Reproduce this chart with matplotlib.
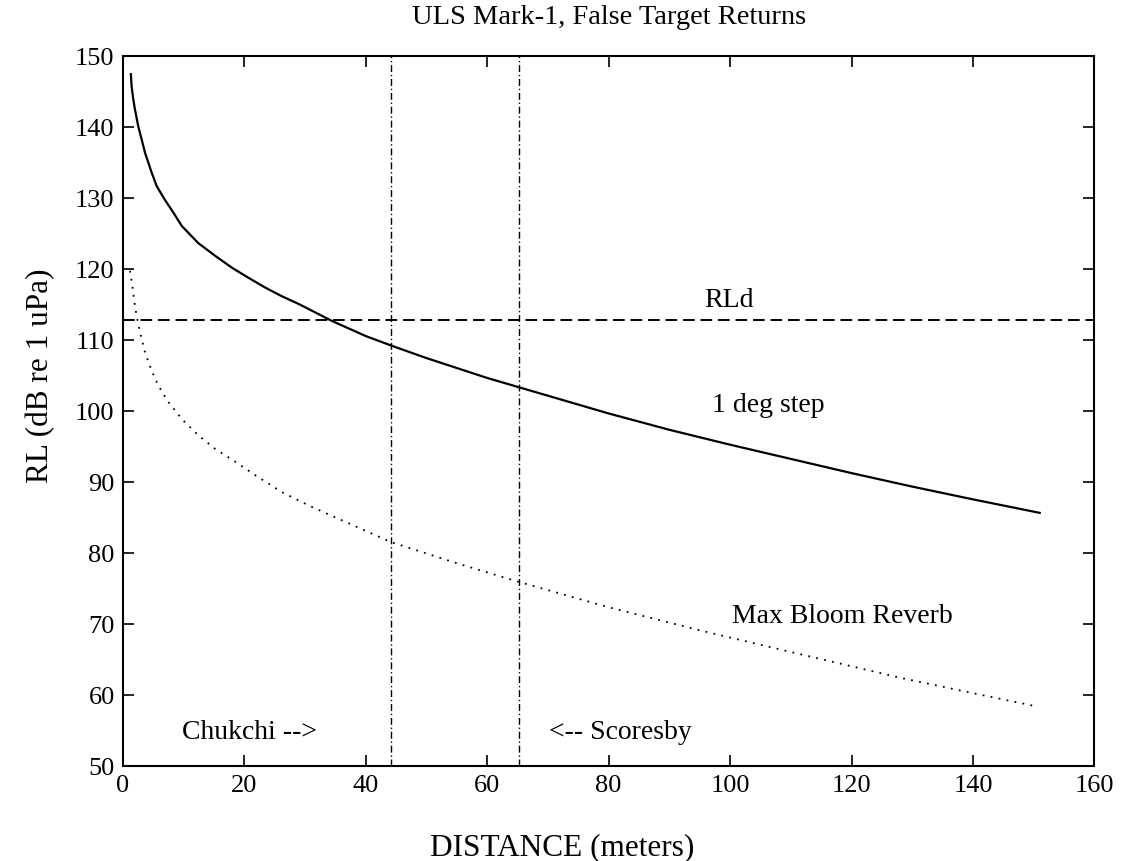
import numpy as np
import matplotlib
matplotlib.use('Agg')
import matplotlib.pyplot as plt

plt.rcParams['font.family'] = ['Liberation Serif', 'DejaVu Serif']

# 1 deg step (solid)
step_x = [1.3, 1.43, 1.71, 1.98, 2.53, 3.08, 3.64, 4.74, 5.57, 6.9, 8.3, 9.7, 12.4,
          15.2, 18.0, 20.7, 23.5, 26.2, 29.0, 34.5, 40.0, 44.4, 50.0, 60.0, 65.2,
          70.0, 80.0, 90.0, 100.0, 110.0, 120.0, 130.0, 140.0, 151.0]
step_y = [147.5, 145.7, 143.9, 142.5, 140.1, 138.3, 136.4, 133.6, 131.7, 129.8, 128.0,
          126.1, 123.7, 121.9, 120.2, 118.8, 117.4, 116.2, 115.1, 112.7, 110.6, 109.2,
          107.5, 104.7, 103.4, 102.2, 99.7, 97.4, 95.3, 93.3, 91.3, 89.4, 87.6, 85.7]

# Max Bloom Reverb (dotted)
bloom_x = [1.16, 1.54, 1.87, 2.26, 2.81, 3.64, 4.74, 5.84, 7.49, 9.7, 12.45, 15.2,
           18.5, 21.8, 26.2, 31.2, 44.1, 55.0, 65.1, 80.0, 94.8, 110.0, 128.4, 140.0,
           150.7]
bloom_y = [119.8, 117.7, 115.5, 113.4, 111.1, 108.3, 105.7, 103.6, 101.3, 98.9, 96.6,
           94.7, 92.9, 91.0, 88.6, 86.5, 81.6, 78.6, 76.0, 72.4, 69.2, 66.1, 62.4, 60.3,
           58.4]

rld = 112.8
sites = [44.1, 65.2]

fig = plt.figure(figsize=(11.23, 8.61), dpi=100)
ax = fig.add_axes([0.1095, 0.110, 0.865, 0.8245])

ax.plot(step_x, step_y, color='black', lw=1.6)
ax.plot(bloom_x, bloom_y, color='black', lw=1.3, linestyle=(0, (1, 3.5)))
ax.axhline(rld, color='black', lw=1.4, linestyle=(0, (6, 3)))
for s in sites:
    ax.axvline(s, color='black', lw=1.0, linestyle=(0, (5, 2, 1, 2)))

txt = dict(fontsize=20, va='center')
ax.text(99.8, 115.6, 'RLd', ha='center', **txt)
ax.text(106.3, 100.8, '1 deg step', ha='center', **txt)
ax.text(118.5, 71.1, 'Max Bloom Reverb', ha='center', **txt)
ax.text(9.7, 54.8, 'Chukchi -->', ha='left', **txt)
ax.text(70.2, 54.8, '<-- Scoresby', ha='left', **txt)

ax.set_xlim(0, 160)
ax.set_ylim(50, 150)
ax.set_xticks(np.arange(0, 161, 20))
ax.set_yticks(np.arange(50, 151, 10))
ax.tick_params(direction='in', length=8, width=1.2, top=True, right=True,
               labelsize=19, pad=6)
for sp in ax.spines.values():
    sp.set_linewidth(1.5)

ax.set_title('ULS Mark-1, False Target Returns', fontsize=20.5, pad=23)
ax.set_xlabel('DISTANCE (meters)', fontsize=22.5, labelpad=26, x=0.452)
ax.set_ylabel('RL (dB re 1 uPa)', fontsize=22.5, labelpad=14, y=0.55)

fig.savefig('out.png', dpi=100)
